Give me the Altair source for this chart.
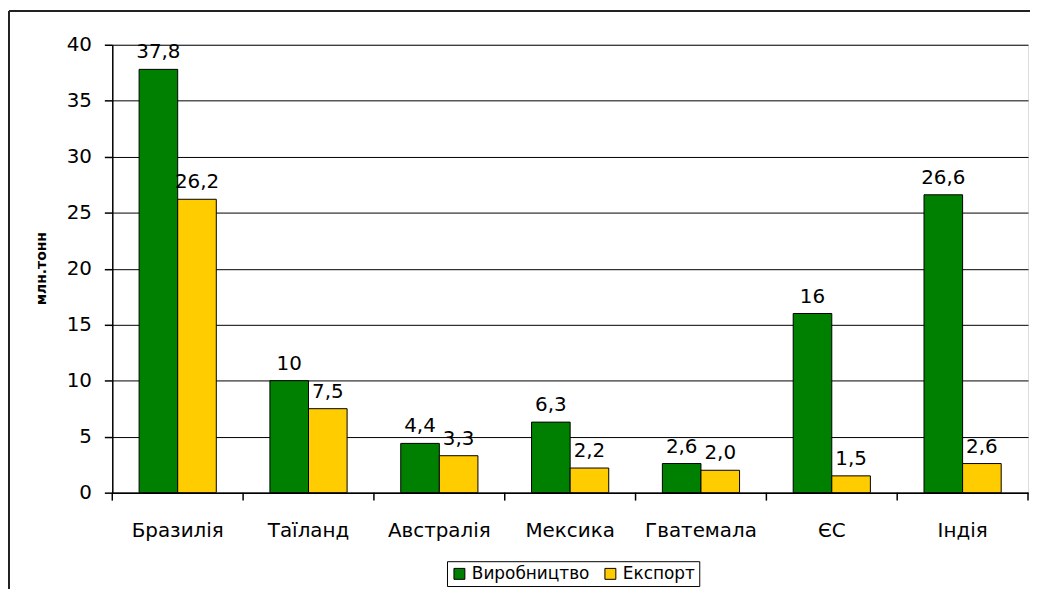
import altair as alt
import pandas as pd

countries = ["Бразилія", "Таїланд", "Австралія", "Мексика", "Гватемала", "ЄС", "Індія"]
production = [37.8, 10, 4.4, 6.3, 2.6, 16, 26.6]
export = [26.2, 7.5, 3.3, 2.2, 2.0, 1.5, 2.6]
prod_labels = ["37,8", "10", "4,4", "6,3", "2,6", "16", "26,6"]
exp_labels = ["26,2", "7,5", "3,3", "2,2", "2,0", "1,5", "2,6"]
series = ["Виробництво", "Експорт"]
colors = ["#008000", "#FFCC00"]
y_ticks = [0, 5, 10, 15, 20, 25, 30, 35, 40]

rows = []
for i, c in enumerate(countries):
    rows.append({"country": c, "series": series[0], "value": production[i], "label": prod_labels[i]})
    rows.append({"country": c, "series": series[1], "value": export[i], "label": exp_labels[i]})
df = pd.DataFrame(rows)
cat_df = pd.DataFrame({"country": countries})

FONT = "DejaVu Sans"
W, H = 922, 451
PAD_INNER = 0.41
PAD_OUTER = 0.205
STEP = W / (len(countries) - PAD_INNER + 2 * PAD_OUTER)
GAP = PAD_OUTER * STEP

x_scale = alt.Scale(paddingInner=PAD_INNER, paddingOuter=PAD_OUTER)
x_axis = alt.Axis(
    title=None, labelAngle=0, ticks=False, domainColor="black", domainWidth=1.5,
    labelPadding=28, labelFontSize=20, labelFont=FONT,
    labelColor="black", grid=False,
)
x_enc = alt.X("country:N", sort=countries, scale=x_scale, axis=x_axis)
xoff_enc = alt.XOffset("series:N", sort=series, scale=alt.Scale(paddingInner=0, paddingOuter=0))
y_enc = alt.Y(
    "value:Q",
    scale=alt.Scale(domain=[0, 40], nice=False),
    axis=alt.Axis(
        values=y_ticks, title="млн.тонн", titleFont=FONT, titleFontSize=14,
        titleFontWeight="bold", titleColor="black", titleX=-71, titleY=225,
        titleAlign="center", titleBaseline="middle", titleAngle=-90,
        labelFont=FONT, labelFontSize=20, labelColor="black", labelPadding=13,
        tickSize=8, tickColor="black", tickWidth=1.5, domainColor="black", domainWidth=1.5,
        grid=True, gridColor="black", gridWidth=1,
    ),
)
color_enc = alt.Color(
    "series:N",
    sort=series,
    scale=alt.Scale(domain=series, range=colors),
    legend=alt.Legend(
        title=None, orient="none", legendX=337, legendY=520, direction="horizontal",
        labelFont=FONT, labelFontSize=17, labelColor="black", symbolType="square",
        symbolSize=121, symbolStrokeColor="black", symbolStrokeWidth=1,
        strokeColor="black", padding=4, columnPadding=12, labelOffset=4,
    ),
)

bars = alt.Chart(df).mark_bar(stroke="black", strokeWidth=1).encode(
    x=x_enc, xOffset=xoff_enc, y=y_enc, color=color_enc
)

texts = alt.Chart(df).mark_text(
    font=FONT, fontSize=20, color="black", baseline="alphabetic", dy=-11
).encode(
    x=alt.X("country:N", sort=countries, axis=x_axis),
    xOffset=alt.XOffset("series:N", sort=series),
    y=alt.Y("value:Q"),
    text="label:N",
)

# category boundary ticks below the x axis (Excel style)
ticks_start = alt.Chart(cat_df).mark_rule(
    color="black", strokeWidth=1.5, xOffset=-GAP
).encode(
    x=alt.X("country:N", sort=countries, bandPosition=0),
    y=alt.value(H), y2=alt.value(H + 8),
)
ticks_end = alt.Chart(cat_df).transform_filter(
    alt.datum.country == countries[-1]
).mark_rule(color="black", strokeWidth=1.5, xOffset=GAP).encode(
    x=alt.X("country:N", sort=countries, bandPosition=1),
    y=alt.value(H), y2=alt.value(H + 8),
)

frame_data = alt.Data(values=[{"a": 1}])
frame_left = alt.Chart(frame_data).mark_rule(color="#222222", strokeWidth=2).encode(
    x=alt.value(-104), y=alt.value(-34), y2=alt.value(560)
)
frame_top = alt.Chart(frame_data).mark_rule(color="#222222", strokeWidth=2).encode(
    x=alt.value(-104), x2=alt.value(930), y=alt.value(-34)
)

chart = alt.layer(bars, texts, ticks_start, ticks_end, frame_left, frame_top).properties(
    width=W,
    height=H,
    autosize=alt.AutoSizeParams(type="none"),
    padding={"left": 105, "top": 35, "right": 2, "bottom": 95},
).configure_view(
    stroke="#888888", strokeWidth=2
).configure(background="white")

chart.save("out.html", embed_options={"renderer": "svg", "actions": False})
